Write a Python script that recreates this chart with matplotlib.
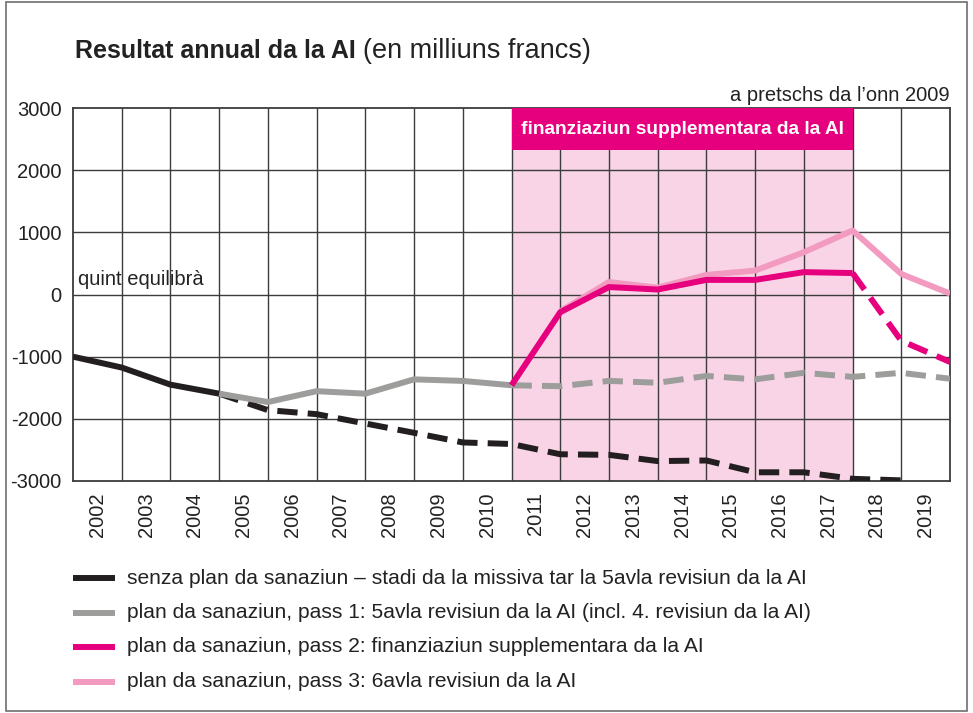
import matplotlib.pyplot as plt
from matplotlib.patches import Rectangle

plt.rcParams['font.family'] = ['Liberation Sans', 'DejaVu Sans']

# data points sit on the vertical gridlines 0..18, year labels between them
years = [str(y) for y in range(2002, 2020)]
yticks = [3000, 2000, 1000, 0, -1000, -2000, -3000]

# senza plan da sanaziun
black_solid_x = [0, 1, 2, 3]
black_solid_y = [-1000, -1175, -1450, -1595]
black_dash_x = [3, 4, 5, 6, 7, 8, 9, 10, 11, 12, 13, 14, 15, 16, 17]
black_dash_y = [-1595, -1860, -1925, -2075, -2225, -2380, -2405, -2570, -2580,
                -2680, -2670, -2860, -2860, -2965, -2990]

# pass 1
gray_solid_x = [3, 4, 5, 6, 7, 8, 9]
gray_solid_y = [-1595, -1730, -1555, -1595, -1365, -1390, -1460]
gray_dash_x = [9, 10, 11, 12, 13, 14, 15, 16, 17, 18]
gray_dash_y = [-1460, -1475, -1390, -1420, -1310, -1365, -1260, -1325, -1260, -1355]

# pass 2
mag_solid_x = [9, 10, 11, 12, 13, 14, 15, 16]
mag_solid_y = [-1460, -285, 120, 80, 235, 235, 360, 345]
mag_dash_x = [16, 17, 18]
mag_dash_y = [345, -745, -1085]

# pass 3
pink_x = [10, 11, 12, 13, 14, 15, 16, 17, 18]
pink_y = [-270, 200, 110, 315, 385, 680, 1030, 330, 15]

BLACK = '#231f20'
GRAY = '#9d9d9c'
MAGENTA = '#e6007e'
PINK = '#f39ac0'
SHADE = '#f9d4e6'
TXT = '#222222'

fig = plt.figure(figsize=(9.73, 7.13), dpi=100)
ax = fig.add_axes([0.075, 0.3254, 0.9014, 0.5231])

ax.set_xlim(0, 18)
ax.set_ylim(-3000, 3000)

# finanziaziun period
ax.axvspan(9, 16, color=SHADE, zorder=0, lw=0)
ax.add_patch(Rectangle((9, 2320), 7, 680, facecolor=MAGENTA, edgecolor='none', zorder=3))
ax.text(12.5, 2650, 'finanziaziun supplementara da la AI', color='white',
        fontsize=13.8, fontweight='bold', ha='center', va='center', zorder=4)

for k in range(1, 18):
    ax.axvline(k, color='#3c3c3c', lw=1.0, zorder=1)
for v in yticks[1:-1]:
    ax.axhline(v, color='#3c3c3c', lw=1.0, zorder=1)
for s in ax.spines.values():
    s.set_color('#3c3c3c')
    s.set_linewidth(1.3)

lw = 4.3
dash = (3.4, 1.7)
ax.plot(black_solid_x, black_solid_y, color=BLACK, lw=lw, zorder=5, solid_capstyle='butt')
ax.plot(black_dash_x, black_dash_y, color=BLACK, lw=lw, zorder=5, dashes=dash)
ax.plot(gray_solid_x, gray_solid_y, color=GRAY, lw=lw, zorder=5, solid_capstyle='butt')
ax.plot(gray_dash_x, gray_dash_y, color=GRAY, lw=lw, zorder=5, dashes=dash)
ax.plot(pink_x, pink_y, color=PINK, lw=lw, zorder=6, solid_capstyle='butt')
ax.plot(mag_solid_x, mag_solid_y, color=MAGENTA, lw=lw, zorder=7, solid_capstyle='butt')
ax.plot(mag_dash_x, mag_dash_y, color=MAGENTA, lw=lw, zorder=7, dashes=dash)

ax.set_yticks(yticks)
ax.set_yticklabels([str(v) for v in yticks], fontsize=14.5, color=TXT)
ax.set_xticks([k + 0.5 for k in range(18)])
ax.set_xticklabels(years, rotation=90, fontsize=14.5, color=TXT)
ax.tick_params(length=0, pad=8)

ax.text(0.1, 150, 'quint equilibrà', fontsize=14.5,
        color=TXT, ha='left', va='baseline', zorder=8)
ax.text(1.0, 1.008, 'a pretschs da l\u2019onn 2009', transform=ax.transAxes, fontsize=14.5,
        color=TXT, ha='right', va='bottom')

t1 = fig.text(0.077, 0.919, 'Resultat annual da la AI', fontsize=18, fontweight='bold',
              color=TXT, va='baseline')
fig.canvas.draw()
bb = t1.get_window_extent()
fig.text((bb.x1 + 7) / fig.bbox.width, 0.919, '(en milliuns francs)', fontsize=19.5,
         color=TXT, va='baseline')

# legend
labels = [
    'senza plan da sanaziun \u2013 stadi da la missiva tar la 5avla revisiun da la AI',
    'plan da sanaziun, pass 1: 5avla revisiun da la AI (incl. 4. revisiun da la AI)',
    'plan da sanaziun, pass 2: finanziaziun supplementara da la AI',
    'plan da sanaziun, pass 3: 6avla revisiun da la AI',
]
colors = [BLACK, GRAY, MAGENTA, PINK]
for i, (lab, c) in enumerate(zip(labels, colors)):
    y = 1 - (578 + i * 34.5) / 713
    fig.add_artist(plt.Line2D([0.0755, 0.118], [y, y], color=c, lw=lw,
                              transform=fig.transFigure, solid_capstyle='butt'))
    fig.text(0.131, y, lab, fontsize=15.1, color=TXT, va='center')

fig.add_artist(Rectangle((0.006, 0.003), 0.988, 0.994, transform=fig.transFigure,
                         fill=False, edgecolor='#6e6e6e', lw=1.2))

fig.savefig('out.png', dpi=100)
